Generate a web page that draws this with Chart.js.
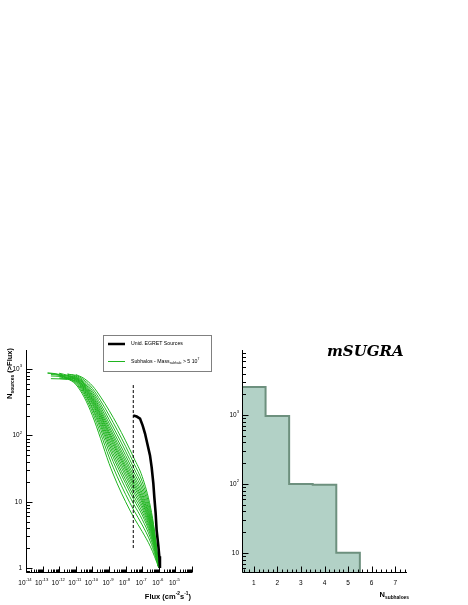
<!DOCTYPE html>
<html>
<head>
<meta charset="utf-8">
<script src="https://cdn.jsdelivr.net/npm/chart.js@4.4.1/dist/chart.umd.min.js"></script>
<style>
  html, body { margin:0; padding:0; background:#fff; }
  body { width:468px; height:605px; position:relative; overflow:hidden; }
  canvas { position:absolute; }
  #left { left:0; top:330px; }
  #right { left:200px; top:330px; }
</style>
</head>
<body>
<canvas id="left" width="234" height="275"></canvas>
<canvas id="right" width="268" height="275"></canvas>
<script>
// --- Left panel: N(>Flux)
const fluxGrid = [2.0e-13, 3.16e-13, 1e-12, 3.16e-12, 1e-11, 3.16e-11, 1e-10, 3.16e-10, 1e-9, 3.16e-9, 1e-8, 3.16e-8, 1e-7, 3.16e-7, 5.62e-7, 1e-6];
const subhaloCurves = [
  [870, 862, 820, 720, 589, 380, 200, 89, 38, 18.6, 10, 5.75, 3.55, 2.09, 1.48, 1],
  [null, 830, 810, 720, 614, 411, 226, 106, 47.4, 23.8, 12.9, 7.4, 4.47, 2.47, 1.64, 1],
  [880, 872, 835, 745, 635, 439, 251, 123, 57, 29.2, 15.9, 9.1, 5.4, 2.83, 1.79, 1],
  [null, null, 770, 720, 653, 461, 265, 138, 66, 34.4, 18.9, 10.7, 6.3, 3.16, 1.92, 1],
  [null, 720, 715, 700, 667, 480, 290, 150, 74, 38.9, 21.4, 12.1, 7.06, 3.44, 2.03, 1],
  [null, null, 850, 780, 681, 499, 308, 164, 82, 44, 24.3, 13.7, 7.9, 3.73, 2.14, 1],
  [null, 790, 780, 750, 693, 515, 325, 176, 90, 48.8, 27, 15.2, 8.7, 4.0, 2.23, 1],
  [null, null, null, 800, 705, 532, 342, 190, 99, 54, 30, 16.9, 9.6, 4.29, 2.33, 1],
  [null, null, 730, 725, 714, 546, 356, 201, 107, 58.6, 32.7, 18.4, 10.4, 4.53, 2.42, 1],
  [null, null, 870, 810, 724, 560, 372, 213, 115, 63.7, 35.6, 20, 11.2, 4.79, 2.5, 1],
  [null, null, null, 760, 738, 578, 392, 229, 126, 70.6, 39.6, 22.1, 12.3, 5.13, 2.61, 1],
  [null, null, 810, 790, 750, 597, 412, 246, 138, 78, 44, 24.5, 13.5, 5.5, 2.73, 1],
  [null, null, null, 800, 766, 621, 439, 269, 154, 88, 50, 27.8, 15.2, 5.97, 2.88, 1],
  [null, null, null, 850, 785, 649, 472, 297, 175, 102, 58, 32.1, 17.3, 6.58, 3.05, 1],
  [null, null, null, 835, 807, 684, 513, 333, 203, 120, 68.7, 37.9, 20.2, 7.35, 3.28, 1],
  [null, null, null, null, 832, 724, 562, 380, 240, 145, 83, 45.7, 24, 8.3, 3.5, 1]
];
const egretFlux   = [2.88e-8, 4.68e-8, 7.41e-8, 1.07e-7, 1.48e-7, 2.04e-7, 2.95e-7, 3.72e-7, 4.68e-7, 5.37e-7, 6.46e-7, 7.41e-7, 9.33e-7, 1.07e-6, 1.17e-6];
const egretCounts = [200, 193, 180, 141, 107, 75, 50, 33, 19, 11.7, 6.7, 3.7, 2.2, 1.5, 1.0];
const thresholdFlux = 2.9e-8;
const thresholdSpan = [2, 605];
const fluxTickExp = [-14, -13, -12, -11, -10, -9, -8, -7, -6, -5];
const countTicks = [1, 10, 100, 1000];
const countTickLabels = ['1', '10', '10^{2}', '10^{3}'];

// --- Right panel: histogram of N_subhaloes
const nSubhaloes = [1, 2, 3, 4, 5, 6, 7];
const histCounts = [2550, 970, 100, 97, 10, 0, 0];
const histTicks = [10, 100, 1000];
const histTickLabels = ['10', '10^{2}', '10^{3}'];

const FONT = '"Liberation Sans", Arial, sans-serif';
const GREEN = '#1fb41f';
const L_YMIN = 0.84, L_YMAX = 1950, R_YMIN = 5.1, R_YMAX = 8800;

// --- tiny TLatex-like text: "N_{sources}", "10^{-14}"
function parseRich(str) {
  const parts = []; const re = /([_^])\{([^}]*)\}/g; let last = 0, m;
  while ((m = re.exec(str))) {
    if (m.index > last) parts.push({ t: str.slice(last, m.index) });
    parts.push({ t: m[2], s: m[1] === '^' ? 'sup' : 'sub' });
    last = re.lastIndex;
  }
  if (last < str.length) parts.push({ t: str.slice(last) });
  return parts;
}
function drawRich(ctx, str, x, y, align, size, weight) {
  const parts = parseRich(str);
  const fontOf = p => `${weight} ${p.s ? size * 0.65 : size}px ${FONT}`;
  let w = 0;
  parts.forEach(p => { ctx.font = fontOf(p); w += ctx.measureText(p.t).width; });
  let cx = align === 'right' ? x - w : align === 'center' ? x - w / 2 : x;
  ctx.textAlign = 'left'; ctx.textBaseline = 'middle';
  parts.forEach(p => {
    ctx.font = fontOf(p);
    const dy = p.s === 'sup' ? -size * 0.45 : p.s === 'sub' ? size * 0.35 : 0;
    ctx.fillText(p.t, cx, y + dy);
    cx += ctx.measureText(p.t).width;
  });
}

function logMarks(min, max) {
  const out = [];
  for (let e = Math.floor(Math.log10(min)); e <= Math.ceil(Math.log10(max)); e++)
    for (let k = 1; k <= 9; k++) {
      const v = k * Math.pow(10, e);
      if (v >= min * 0.999 && v <= max * 1.001) out.push({ v, major: k === 1 });
    }
  return out;
}

// --- axes drawn with inward ticks (ROOT look)
function axesPlugin(cfg) {
  return {
    id: 'rootAxes',
    afterDatasetsDraw(chart) {
      const ctx = chart.ctx, a = chart.chartArea, xs = chart.scales.x, ys = chart.scales.y;
      const L = Math.round(a.left) + 0.5, B = Math.round(a.bottom) - 0.5;
      ctx.save();
      ctx.strokeStyle = '#000'; ctx.fillStyle = '#000'; ctx.lineWidth = 1;
      ctx.beginPath();
      ctx.moveTo(L, a.top); ctx.lineTo(L, B); ctx.lineTo(a.right, B);
      cfg.xMarks.forEach(t => {
        const px = Math.round(xs.getPixelForValue(t.v)) + 0.5;
        ctx.moveTo(px, B); ctx.lineTo(px, B - (t.major ? 6 : 3));
      });
      cfg.yMarks.forEach(t => {
        const py = Math.round(ys.getPixelForValue(t.v)) + 0.5;
        ctx.moveTo(L, py); ctx.lineTo(L + (t.major ? 6 : 3.5), py);
      });
      ctx.stroke();
      cfg.xLabels.forEach(([v, s]) => drawRich(ctx, s, xs.getPixelForValue(v) + cfg.xLabelDx, a.bottom + 10, 'center', 6.5, 'normal'));
      cfg.yLabels.forEach(([v, s]) => drawRich(ctx, s, a.left - cfg.yLabelGap, ys.getPixelForValue(v), 'right', 6.5, 'normal'));
      if (cfg.extra) cfg.extra(ctx, a);
      ctx.restore();
    }
  };
}

// --- Left chart
const leftDatasets = [
  { data: egretFlux.map((f, i) => ({ x: f, y: egretCounts[i] })), borderColor: '#000', borderWidth: 2.6 },
  { data: thresholdSpan.map(n => ({ x: thresholdFlux, y: n })), borderColor: '#000', borderWidth: 1, borderDash: [3, 2] }
].concat(subhaloCurves.map(c => ({
  data: fluxGrid.map((f, i) => ({ x: f, y: c[i] })).filter(p => p.y != null),
  borderColor: GREEN, borderWidth: 1, cubicInterpolationMode: 'monotone'
})));
leftDatasets.forEach(d => { d.showLine = true; d.pointRadius = 0; d.fill = false; });

new Chart(document.getElementById('left'), {
  type: 'scatter',
  data: { datasets: leftDatasets },
  options: {
    responsive: false, animation: false, devicePixelRatio: 1,
    layout: { padding: { left: 26, top: 20, right: 42, bottom: 32 } },
    plugins: { legend: { display: false }, tooltip: { enabled: false } },
    scales: {
      x: { type: 'logarithmic', min: 1e-14, max: 1e-4, display: false },
      y: { type: 'logarithmic', min: L_YMIN, max: L_YMAX, display: false }
    }
  },
  plugins: [axesPlugin({
    xMarks: logMarks(1e-14, 1e-4),
    yMarks: logMarks(L_YMIN, L_YMAX),
    xLabels: fluxTickExp.map(e => [Math.pow(10, e), '10^{' + e + '}']),
    xLabelDx: -1,
    yLabels: countTicks.map((v, i) => [v, countTickLabels[i]]),
    yLabelGap: 4,
    extra(ctx, a) {
      drawRich(ctx, 'Flux (cm^{-2}s^{-1})', a.right - 1, a.bottom + 24, 'right', 7.5, 'bold');
      ctx.save();
      ctx.translate(10, a.top - 2); ctx.rotate(-Math.PI / 2);
      drawRich(ctx, 'N_{sources} (>Flux)', 0, 0, 'right', 7.5, 'bold');
      ctx.restore();
      // legend
      ctx.strokeStyle = '#808080'; ctx.lineWidth = 1;
      ctx.strokeRect(103.5, 5.5, 108, 36);
      ctx.beginPath(); ctx.strokeStyle = '#000'; ctx.lineWidth = 2.5;
      ctx.moveTo(108, 14); ctx.lineTo(125, 14); ctx.stroke();
      ctx.beginPath(); ctx.strokeStyle = GREEN; ctx.lineWidth = 1;
      ctx.moveTo(108, 31.5); ctx.lineTo(125, 31.5); ctx.stroke();
      drawRich(ctx, 'Unid. EGRET Sources', 131, 14, 'left', 5.2, 'normal');
      drawRich(ctx, 'Subhalos - Mass_{subhalo} > 5 10^{7}', 131, 31.5, 'left', 5.2, 'normal');
    }
  })]
});

// --- Right chart: step histogram
const histPoints = [];
nSubhaloes.forEach((n, i) => { if (histCounts[i] > 0) histPoints.push({ x: n - 0.5, y: histCounts[i] }); });
histPoints.push({ x: histPoints[histPoints.length - 1].x + 1, y: R_YMIN });

new Chart(document.getElementById('right'), {
  type: 'line',
  data: { datasets: [{
    data: histPoints, stepped: true, fill: 'start',
    backgroundColor: '#b2d1c6', borderColor: '#6d907e', borderWidth: 2,
    pointRadius: 0, borderJoinStyle: 'miter'
  }] },
  options: {
    responsive: false, animation: false, devicePixelRatio: 1,
    layout: { padding: { left: 42, top: 20, right: 61, bottom: 32 } },
    plugins: { legend: { display: false }, tooltip: { enabled: false } },
    scales: {
      x: { type: 'linear', min: 0.5, max: 7.5, display: false },
      y: { type: 'logarithmic', min: R_YMIN, max: R_YMAX, display: false }
    }
  },
  plugins: [axesPlugin({
    xMarks: Array.from({ length: 35 }, (_, i) => ({ v: 0.6 + i * 0.2, major: Math.abs((0.6 + i * 0.2) - Math.round(0.6 + i * 0.2)) < 1e-6 })),
    yMarks: logMarks(R_YMIN, R_YMAX),
    xLabels: nSubhaloes.map(n => [n, String(n)]),
    xLabelDx: 0,
    yLabels: histTicks.map((v, i) => [v, histTickLabels[i]]),
    yLabelGap: 3,
    extra(ctx, a) {
      drawRich(ctx, 'N_{subhaloes}', a.right + 2, a.bottom + 22, 'right', 7.5, 'bold');
      ctx.font = `bold italic 15px "DejaVu Serif", serif`;
      ctx.textAlign = 'left'; ctx.textBaseline = 'alphabetic';
      ctx.fillText('mSUGRA', 127, 26);
    }
  })]
});
</script>
</body>
</html>
